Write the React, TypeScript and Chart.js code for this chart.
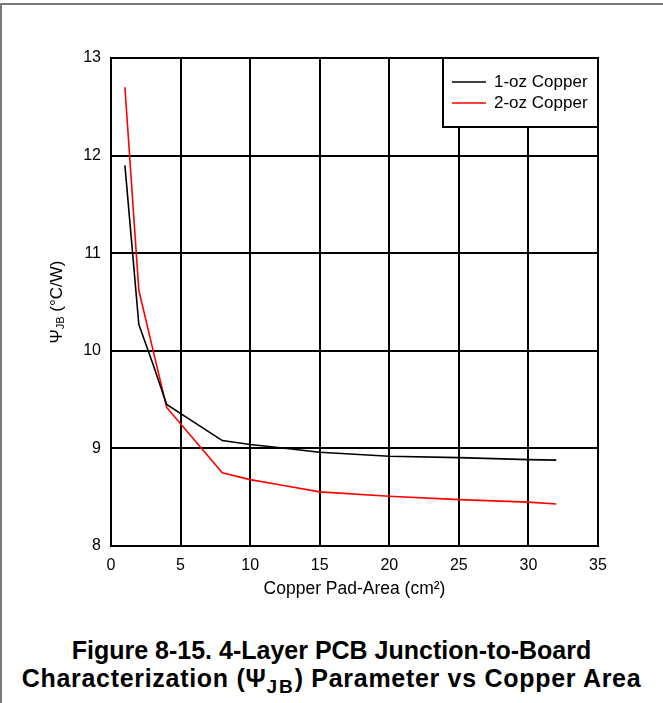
import React, { useEffect, useRef } from 'react';
import { Chart, registerables } from 'chart.js';

Chart.register(...registerables);

// ---- data ----
const areaCm2 = [1, 2, 3, 4, 8, 10, 12, 15, 20, 25, 30, 32];
const psiOneOz = [11.9, 10.27, 9.87, 9.45, 9.08, 9.04, 9.01, 8.96, 8.92, 8.905, 8.885, 8.88];
const psiTwoOz = [12.7, 10.62, 10.02, 9.42, 8.75, 8.68, 8.63, 8.555, 8.51, 8.475, 8.45, 8.43];
const seriesLabels = ['1-oz Copper', '2-oz Copper'];
const seriesColors = ['#000000', '#ff0000'];
const xTickValues = [0, 5, 10, 15, 20, 25, 30, 35];
const yTickValues = [8, 9, 10, 11, 12, 13];
const xTitle = 'Copper Pad-Area (cm\u00B2)';
const yTitleMain = '\u03A8';
const yTitleSub = 'JB';
const yTitleRest = ' (\u00B0C/W)';

const FONT = '"Liberation Sans", Arial, sans-serif';

const customPlugin = {
  id: 'customDecor',
  afterDraw(chart: any) {
    const ctx = chart.ctx;
    const { top, bottom, right } = chart.chartArea;
    // y-axis title with subscript
    ctx.save();
    ctx.fillStyle = '#000';
    ctx.textBaseline = 'middle';
    const mainFont = `17px ${FONT}`;
    const subFont = `11px ${FONT}`;
    ctx.font = mainFont;
    const w1 = ctx.measureText(yTitleMain).width;
    const w3 = ctx.measureText(yTitleRest).width;
    ctx.font = subFont;
    const w2 = ctx.measureText(yTitleSub).width;
    const total = w1 + w2 + w3;
    ctx.translate(57, (top + bottom) / 2);
    ctx.rotate(-Math.PI / 2);
    let x = -total / 2;
    ctx.textAlign = 'left';
    ctx.font = mainFont;
    ctx.fillText(yTitleMain, x, 0);
    x += w1;
    ctx.font = subFont;
    ctx.fillText(yTitleSub, x, 4);
    x += w2;
    ctx.font = mainFont;
    ctx.fillText(yTitleRest, x, 0);
    ctx.restore();

    // legend box
    ctx.save();
    const bx = 443, by = top, bw = right - 443, bh = 69;
    ctx.fillStyle = '#fff';
    ctx.fillRect(bx, by, bw, bh);
    ctx.strokeStyle = '#000';
    ctx.lineWidth = 2;
    ctx.strokeRect(bx, by, bw, bh);
    ctx.font = `17px ${FONT}`;
    ctx.textBaseline = 'middle';
    ctx.textAlign = 'left';
    chart.data.datasets.forEach((ds: any, i: number) => {
      const ly = by + 24 + i * 21;
      ctx.strokeStyle = ds.borderColor;
      ctx.lineWidth = 1.5;
      ctx.beginPath();
      ctx.moveTo(452, ly);
      ctx.lineTo(486, ly);
      ctx.stroke();
      ctx.fillStyle = '#000';
      ctx.fillText(ds.label, 494, ly);
    });
    ctx.restore();
  },
};

export default function App() {
  const canvasRef = useRef<HTMLCanvasElement | null>(null);

  useEffect(() => {
    if (!canvasRef.current) return;
    const chart = new Chart(canvasRef.current, {
      type: 'line',
      data: {
        labels: areaCm2,
        datasets: [
          {
            label: seriesLabels[0],
            data: areaCm2.map((x, i) => ({ x, y: psiOneOz[i] })),
            borderColor: seriesColors[0],
            borderWidth: 1.6,
            pointRadius: 0,
            tension: 0,
          },
          {
            label: seriesLabels[1],
            data: areaCm2.map((x, i) => ({ x, y: psiTwoOz[i] })),
            borderColor: seriesColors[1],
            borderWidth: 1.6,
            pointRadius: 0,
            tension: 0,
          },
        ],
      },
      options: {
        animation: false,
        responsive: false,
        maintainAspectRatio: false,
        layout: { padding: { left: 0, top: 58, right: 65, bottom: 0 } },
        plugins: {
          legend: { display: false },
          tooltip: { enabled: false },
        },
        scales: {
          x: {
            type: 'linear',
            min: 0,
            max: 35,
            afterBuildTicks: (s: any) => {
              s.ticks = xTickValues.map((v) => ({ value: v }));
            },
            afterFit: (s: any) => {
              s.height = 65;
            },
            ticks: {
              color: '#000',
              font: { family: FONT, size: 16 },
              padding: 10,
              maxRotation: 0,
            },
            grid: { color: '#000', lineWidth: 2, drawTicks: false },
            border: { color: '#000', width: 2 },
            title: {
              display: true,
              text: xTitle,
              color: '#000',
              font: { family: FONT, size: 17.5 },
              padding: { top: 0, bottom: 11 },
            },
          },
          y: {
            type: 'linear',
            min: 8,
            max: 13,
            afterBuildTicks: (s: any) => {
              s.ticks = yTickValues.map((v) => ({ value: v }));
            },
            afterFit: (s: any) => {
              s.width = 111;
            },
            ticks: {
              color: '#000',
              font: { family: FONT, size: 16 },
              padding: 10,
            },
            grid: { color: '#000', lineWidth: 2, drawTicks: false },
            border: { color: '#000', width: 2 },
          },
        },
      },
      plugins: [customPlugin],
    });
    return () => chart.destroy();
  }, []);

  return (
    <div
      style={{
        position: 'absolute',
        left: 0,
        top: 0,
        width: 663,
        height: 703,
        background: '#fff',
        overflow: 'hidden',
      }}
    >
      <div
        style={{
          position: 'absolute',
          left: 0,
          top: 3,
          width: 663,
          height: 700,
          borderTop: '2px solid #7a7a7a',
          borderLeft: '2px solid #7a7a7a',
          boxSizing: 'border-box',
        }}
      />
      <canvas
        ref={canvasRef}
        width={663}
        height={611}
        style={{ position: 'absolute', left: 0, top: 0, width: 663, height: 611 }}
      />
      <div
        style={{
          position: 'absolute',
          left: 0,
          top: 636,
          width: 663,
          textAlign: 'center',
          fontFamily: FONT,
          fontWeight: 'bold',
          fontSize: 25,
          lineHeight: '28px',
          color: '#000',
          whiteSpace: 'nowrap',
        }}
      >
        <div>Figure 8-15. 4-Layer PCB Junction-to-Board</div>
        <div style={{ letterSpacing: '0.7px' }}>
          Characterization ({'\u03A8'}
          <span style={{ fontSize: '0.76em', position: 'relative', top: '0.3em', letterSpacing: '2px' }}>JB</span>) Parameter vs Copper Area
        </div>
      </div>
    </div>
  );
}
